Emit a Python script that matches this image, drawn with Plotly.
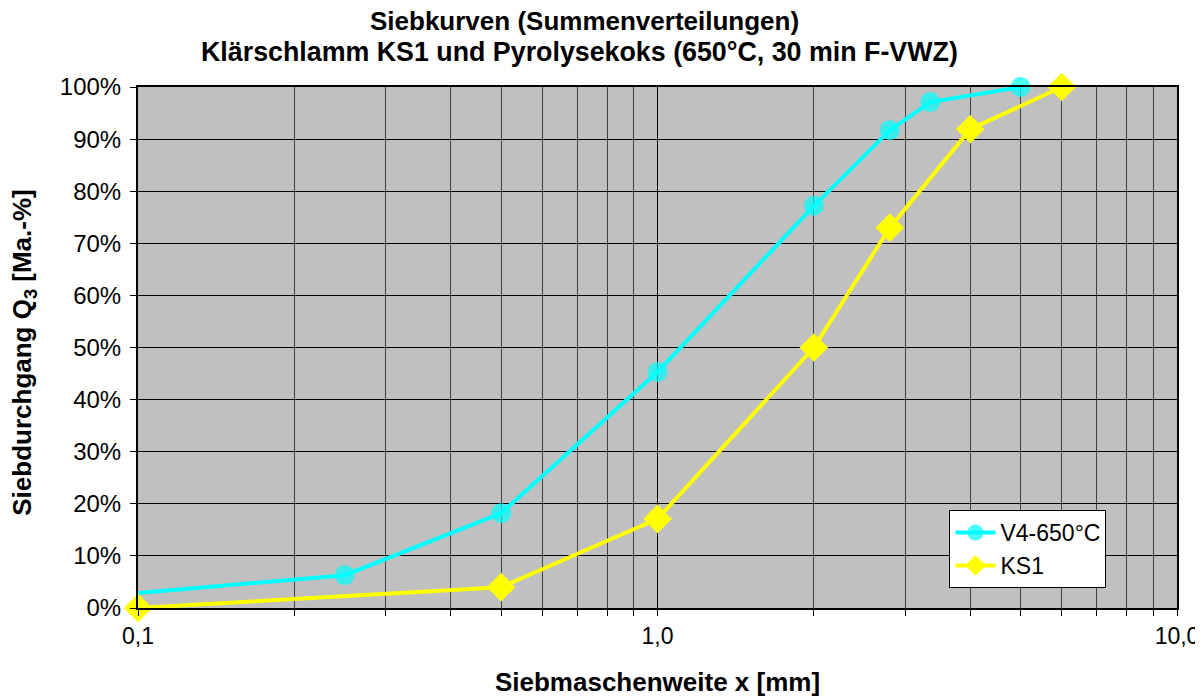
import plotly.graph_objects as go

# sieve mesh sizes [mm] and cumulative passing Q3 [%]
v4_x = [0.1, 0.25, 0.5, 1.0, 2.0, 2.8, 3.35, 5.0]
v4_y = [2.9, 6.3, 18.2, 45.3, 77.2, 91.7, 97.1, 100.0]

ks1_x = [0.1, 0.5, 1.0, 2.0, 2.8, 4.0, 6.0]
ks1_y = [0.0, 4.0, 17.1, 50.0, 73.0, 91.9, 100.0]

x_tickvals = [0.1, 1, 10]
x_ticktext = ["0,1", "1,0", "10,0"]
y_tickvals = list(range(0, 101, 10))
y_ticktext = [f"{v}%" for v in y_tickvals]

title_lines = [
    "Siebkurven (Summenverteilungen)",
    "Klärschlamm KS1 und Pyrolysekoks (650°C, 30 min F-VWZ)",
]

FONT = "Liberation Sans, Arial, sans-serif"

fig = go.Figure()

fig.add_trace(go.Scatter(
    x=v4_x, y=v4_y,
    name="V4-650°C",
    mode="lines+markers",
    line=dict(color="#00FFFF", width=4),
    marker=dict(symbol="circle", color="#00FFFF",
                size=[0] + [20] * (len(v4_x) - 1),
                line=dict(width=0)),
    cliponaxis=False,
))

fig.add_trace(go.Scatter(
    x=ks1_x, y=ks1_y,
    name="KS1",
    mode="lines+markers",
    line=dict(color="#FFFF00", width=4),
    marker=dict(symbol="diamond", color="#FFFF00", size=22,
                line=dict(width=0)),
    cliponaxis=False,
))

# page body has an 8px margin, so the figure is a bit smaller and shifted
fig.update_layout(
    width=1195,
    height=689,
    margin=dict(l=130, r=26, t=79, b=89),
    paper_bgcolor="white",
    plot_bgcolor="#C0C0C0",
    font=dict(family=FONT, color="black", size=24),
    showlegend=True,
    legend=dict(
        x=0.781, y=0.188, xanchor="left", yanchor="top",
        bgcolor="white", bordercolor="black", borderwidth=1,
        font=dict(size=23),
        itemwidth=40,
        tracegroupgap=2,
    ),
)

fig.add_annotation(text=f"<b>{title_lines[0]}</b>", xref="paper", yref="paper",
                   x=0.430, y=1.1267, xanchor="center", yanchor="middle",
                   showarrow=False, font=dict(size=26))
fig.add_annotation(text=f"<b>{title_lines[1]}</b>", xref="paper", yref="paper",
                   x=0.4254, y=1.0672, xanchor="center", yanchor="middle",
                   showarrow=False, font=dict(size=26.8))
fig.add_annotation(text="<b>Siebdurchgang Q<sub>3</sub> [Ma.-%]</b>",
                   xref="paper", yref="paper",
                   x=-0.1097, y=0.49, xanchor="center", yanchor="middle",
                   textangle=-90, showarrow=False, font=dict(size=26))

fig.update_xaxes(
    type="log",
    range=[-1, 1],
    automargin=False,
    tickvals=x_tickvals,
    ticktext=x_ticktext,
    ticks="outside", ticklen=6, tickcolor="black",
    showgrid=True, gridcolor="black", gridwidth=1,
    minor=dict(dtick="D1", showgrid=True, gridcolor="#404040", gridwidth=1,
               ticks="outside", ticklen=6, tickcolor="black"),
    showline=True, linecolor="black", linewidth=2, mirror=True,
    tickfont=dict(size=23),
    title=dict(text="<b>Siebmaschenweite x [mm]</b>", font=dict(size=26), standoff=25),
    zeroline=False,
)

fig.update_yaxes(
    range=[0, 100],
    automargin=False,
    tickvals=y_tickvals,
    ticktext=y_ticktext,
    ticks="outside", ticklen=6, tickcolor="black",
    ticklabelstandoff=4,
    showgrid=True, gridcolor="black", gridwidth=1,
    showline=True, linecolor="black", linewidth=2, mirror=True,
    tickfont=dict(size=24),
    zeroline=False,
)

fig.write_html("out.html", post_script="document.body.style.overflow='hidden';")
